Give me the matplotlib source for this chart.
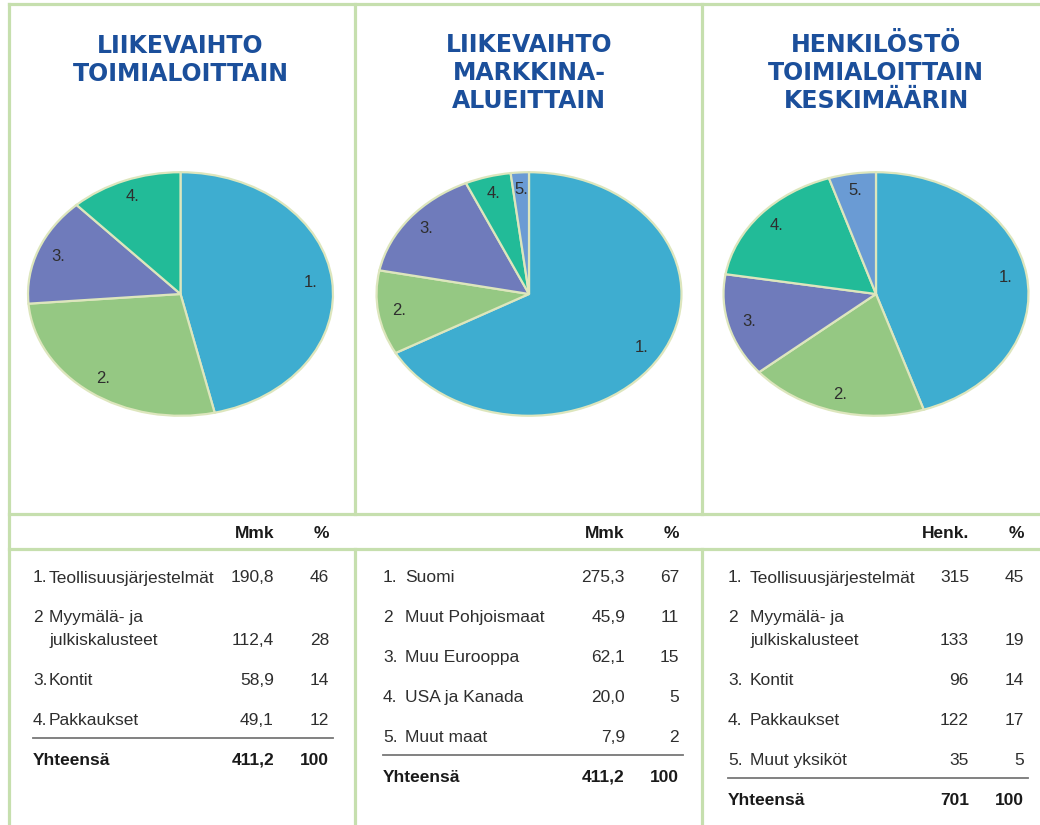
import matplotlib.pyplot as plt
from matplotlib import font_manager

# =========================
# DATA
# =========================
titles = ["LIIKEVAIHTO\nTOIMIALOITTAIN",
          "LIIKEVAIHTO\nMARKKINA-\nALUEITTAIN",
          "HENKILÖSTÖ\nTOIMIALOITTAIN\nKESKIMÄÄRIN"]

# panel 1: revenue by business area
p1_nums = ["1.", "2", "3.", "4."]
p1_names = ["Teollisuusjärjestelmät", "Myymälä- ja\njulkiskalusteet", "Kontit", "Pakkaukset"]
p1_vals = [190.8, 112.4, 58.9, 49.1]
p1_pct = [46, 28, 14, 12]
p1_total = ["411,2", "100"]

# panel 2: revenue by market area
p2_nums = ["1.", "2", "3.", "4.", "5."]
p2_names = ["Suomi", "Muut Pohjoismaat", "Muu Eurooppa", "USA ja Kanada", "Muut maat"]
p2_vals = [275.3, 45.9, 62.1, 20.0, 7.9]
p2_pct = [67, 11, 15, 5, 2]
p2_total = ["411,2", "100"]

# panel 3: personnel by business area
p3_nums = ["1.", "2", "3.", "4.", "5."]
p3_names = ["Teollisuusjärjestelmät", "Myymälä- ja\njulkiskalusteet", "Kontit", "Pakkaukset", "Muut yksiköt"]
p3_vals = [315, 133, 96, 122, 35]
p3_pct = [45, 19, 14, 17, 5]
p3_total = ["701", "100"]

unit_hdr = ["Mmk", "Mmk", "Henk."]

colors = ["#3eadd0", "#95c883", "#6f7bbb", "#22bb98", "#6a9bd4"]
edge = "#dde6bd"
border = "#c6dfae"
title_col = "#1b4f9b"
txt_col = "#2e2e2e"

names_installed = {f.name for f in font_manager.fontManager.ttflist}
tfont = "Liberation Sans Narrow" if "Liberation Sans Narrow" in names_installed else "Liberation Sans"

W, H = 1040, 825
fig = plt.figure(figsize=(W / 100, H / 100), dpi=100)
bg = fig.add_axes([0, 0, 1, 1])
bg.set_xlim(0, W)
bg.set_ylim(H, 0)
bg.axis("off")

# =========================
# BORDERS
# =========================
lw = 2.3
bg.plot([9, W], [4, 4], color=border, lw=lw)
bg.plot([9, 9], [4, H], color=border, lw=lw)
for yy in [514, 549]:
    bg.plot([9, W], [yy, yy], color=border, lw=lw)
for xx in [355, 702]:
    bg.plot([xx, xx], [4, 514], color=border, lw=lw)
    bg.plot([xx, xx], [549, H], color=border, lw=lw)

# =========================
# TITLES + PIES
# =========================
centers = [180.5, 529, 876]
title_y = [60, 73, 73]
pie_vals = [p1_vals, p2_vals, p3_vals]
pie_nums = [["1.", "2.", "3.", "4."], ["1.", "2.", "3.", "4.", "5."], ["1.", "2.", "3.", "4.", "5."]]
rx, ry, cy = 154, 123, 294

for i in range(3):
    bg.text(centers[i], title_y[i], titles[i], ha="center", va="center",
            fontsize=17, fontweight="bold", color=title_col,
            linespacing=1.2, family="DejaVu Sans")
    ax = fig.add_axes([(centers[i] - rx) / W, 1 - (cy + ry) / H, 2 * rx / W, 2 * ry / H])
    ax.pie(pie_vals[i], colors=colors[:len(pie_vals[i])], startangle=90, counterclock=False,
           labels=pie_nums[i], labeldistance=0.86,
           wedgeprops=dict(edgecolor=edge, linewidth=1.6),
           textprops=dict(fontsize=12, color=txt_col, ha="center", va="center",
                          family=tfont))
    ax.set_aspect("auto")
    ax.set_xlim(-1.01, 1.01)
    ax.set_ylim(-1.01, 1.01)
    ax.axis("off")

# =========================
# TABLES
# =========================
tables = [
    (p1_nums, p1_names, p1_vals, p1_pct, p1_total, 33, 49, 274, 329, "{:.1f}"),
    (p2_nums, p2_names, p2_vals, p2_pct, p2_total, 383, 405, 625, 679, "{:.1f}"),
    (p3_nums, p3_names, p3_vals, p3_pct, p3_total, 728, 750, 969, 1024, "{:.0f}"),
]
fs = 12.5
row_h = 39.8
for k, (nums, names, vals, pct, total, xn, xt, xv, xp, fmt) in enumerate(tables):
    bg.text(xv, 533, unit_hdr[k], ha="right", va="center", fontsize=fs, fontweight="bold",
            color="#1a1a1a", family=tfont)
    bg.text(xp, 533, "%", ha="right", va="center", fontsize=fs, fontweight="bold",
            color="#1a1a1a", family=tfont)
    y = 578
    for n, name, v, p in zip(nums, names, vals, pct):
        two = "\n" in name
        if two:
            l1, l2 = name.split("\n")
            bg.text(xn, y, n, ha="left", va="center", fontsize=fs, color=txt_col, family=tfont)
            bg.text(xt, y, l1, ha="left", va="center", fontsize=fs, color=txt_col, family=tfont)
            y += 23
            bg.text(xt, y, l2, ha="left", va="center", fontsize=fs, color=txt_col, family=tfont)
        else:
            bg.text(xn, y, n, ha="left", va="center", fontsize=fs, color=txt_col, family=tfont)
            bg.text(xt, y, name, ha="left", va="center", fontsize=fs, color=txt_col, family=tfont)
        bg.text(xv, y, fmt.format(v).replace(".", ","), ha="right", va="center", fontsize=fs,
                color=txt_col, family=tfont)
        bg.text(xp, y, str(p), ha="right", va="center", fontsize=fs, color=txt_col, family=tfont)
        y += row_h
    line_y = y - row_h + 18
    bg.plot([xn, xp + 4], [line_y, line_y], color="#777777", lw=1.3)
    ty = line_y + 22
    bg.text(xn, ty, "Yhteensä", ha="left", va="center", fontsize=fs, fontweight="bold",
            color="#1a1a1a", family=tfont)
    bg.text(xv, ty, total[0], ha="right", va="center", fontsize=fs, fontweight="bold",
            color="#1a1a1a", family=tfont)
    bg.text(xp, ty, total[1], ha="right", va="center", fontsize=fs, fontweight="bold",
            color="#1a1a1a", family=tfont)

fig.savefig("out.png", dpi=100, facecolor="white")
